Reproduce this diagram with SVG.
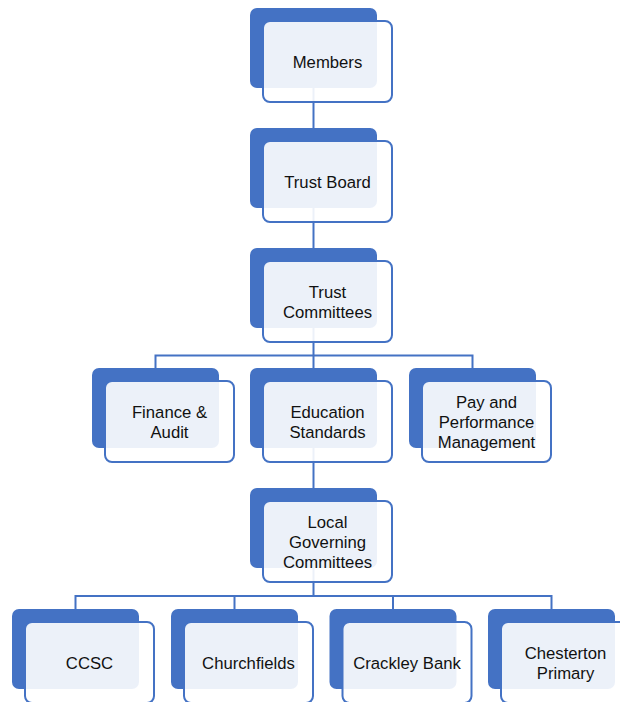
<svg xmlns="http://www.w3.org/2000/svg" width="620" height="702" viewBox="0 0 620 702">
<style>
.back{fill:#4472C4;}
.front{fill:#FFFFFF;fill-opacity:0.9;stroke:#4472C4;stroke-width:2;}
.conn{fill:none;stroke:#4472C4;stroke-width:2;}
text{font-family:"Liberation Sans",Arial,sans-serif;font-size:16.7px;fill:#111;text-anchor:middle;}
</style>
<rect width="620" height="702" fill="#FFFFFF"/>
<g id="connectors">
<path class="conn" d="M313.5,88 V128"/>
<path class="conn" d="M313.5,208 V248"/>
<path class="conn" d="M313.5,328 V355.5 M155.5,368 V355.5 H472.5 V368 M313.5,355.5 V368"/>
<path class="conn" d="M313.5,448 V488"/>
<path class="conn" d="M313.5,568 V596 M75.5,609 V596 H551.5 V609 M234.5,596 V609 M393,596 V609"/>
</g>
<g id="members" transform="translate(250,8)">
<rect class="back" x="0" y="0" width="127" height="80" rx="7"/>
<rect class="front" x="13" y="13" width="129" height="81" rx="7"/>
<text x="77.5" y="59.5">Members</text>
</g>
<g id="trust-board" transform="translate(250,128)">
<rect class="back" x="0" y="0" width="127" height="80" rx="7"/>
<rect class="front" x="13" y="13" width="129" height="81" rx="7"/>
<text x="77.5" y="59.5">Trust Board</text>
</g>
<g id="trust-committees" transform="translate(250,248)">
<rect class="back" x="0" y="0" width="127" height="80" rx="7"/>
<rect class="front" x="13" y="13" width="129" height="81" rx="7"/>
<text x="77.5" y="49.5">Trust</text>
<text x="77.5" y="69.5">Committees</text>
</g>
<g id="finance-audit" transform="translate(92,368)">
<rect class="back" x="0" y="0" width="127" height="80" rx="7"/>
<rect class="front" x="13" y="13" width="129" height="81" rx="7"/>
<text x="77.5" y="49.5">Finance &amp;</text>
<text x="77.5" y="69.5">Audit</text>
</g>
<g id="education-standards" transform="translate(250,368)">
<rect class="back" x="0" y="0" width="127" height="80" rx="7"/>
<rect class="front" x="13" y="13" width="129" height="81" rx="7"/>
<text x="77.5" y="49.5">Education</text>
<text x="77.5" y="69.5">Standards</text>
</g>
<g id="pay-performance" transform="translate(409,368)">
<rect class="back" x="0" y="0" width="127" height="80" rx="7"/>
<rect class="front" x="13" y="13" width="129" height="81" rx="7"/>
<text x="77.5" y="39.5">Pay and</text>
<text x="77.5" y="59.5">Performance</text>
<text x="77.5" y="79.5">Management</text>
</g>
<g id="local-governing-committees" transform="translate(250,488)">
<rect class="back" x="0" y="0" width="127" height="80" rx="7"/>
<rect class="front" x="13" y="13" width="129" height="81" rx="7"/>
<text x="77.5" y="39.5">Local</text>
<text x="77.5" y="59.5">Governing</text>
<text x="77.5" y="79.5">Committees</text>
</g>
<g id="ccsc" transform="translate(12,609)">
<rect class="back" x="0" y="0" width="127" height="80" rx="7"/>
<rect class="front" x="13" y="13" width="129" height="81" rx="7"/>
<text x="77.5" y="59.5">CCSC</text>
</g>
<g id="churchfields" transform="translate(171,609)">
<rect class="back" x="0" y="0" width="127" height="80" rx="7"/>
<rect class="front" x="13" y="13" width="129" height="81" rx="7"/>
<text x="77.5" y="59.5">Churchfields</text>
</g>
<g id="crackley-bank" transform="translate(329.5,609)">
<rect class="back" x="0" y="0" width="127" height="80" rx="7"/>
<rect class="front" x="13" y="13" width="129" height="81" rx="7"/>
<text x="77.5" y="59.5">Crackley Bank</text>
</g>
<g id="chesterton-primary" transform="translate(488,609)">
<rect class="back" x="0" y="0" width="127" height="80" rx="7"/>
<rect class="front" x="13" y="13" width="129" height="81" rx="7"/>
<text x="77.5" y="49.5">Chesterton</text>
<text x="77.5" y="69.5">Primary</text>
</g>
</svg>
